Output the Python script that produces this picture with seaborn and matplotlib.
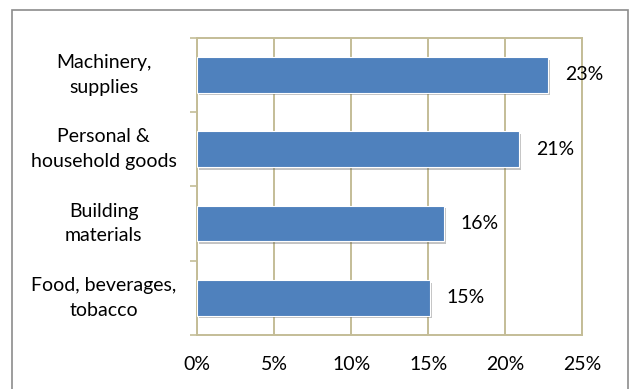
import matplotlib
matplotlib.use("Agg")
import matplotlib.pyplot as plt
import matplotlib.patheffects as pe
from matplotlib.patches import Rectangle
import seaborn as sns
import pandas as pd

categories = ["Machinery,\nsupplies", "Personal &\nhousehold goods",
              "Building\nmaterials", "Food, beverages,\ntobacco"]
shares = [22.8, 20.9, 16.0, 15.1]
x_ticks = [0, 5, 10, 15, 20, 25]
x_tick_labels = ["0%", "5%", "10%", "15%", "20%", "25%"]

BAR = "#4F81BD"
GRID = "#C4BD97"
FRAME = "#8C8C8C"
FS = 14

sns.set_theme(style="white")
plt.rcParams["font.family"] = ["Lato", "DejaVu Sans"]

df = pd.DataFrame({"category": categories, "share": shares})

fig = plt.figure(figsize=(6.31, 3.89), dpi=100)
ax = fig.add_axes([0.3122, 0.1388, 0.6106, 0.7643])

# outer chart frame (its lower edge lies below the canvas)
fig.patches.append(Rectangle((12 / 631, -0.05), (628 - 12) / 631, 1.05 - 10 / 389,
                             transform=fig.transFigure, fill=False,
                             edgecolor=FRAME, linewidth=1.2))

sns.barplot(data=df, x="share", y="category", orient="h", color=BAR,
            width=0.48, saturation=1, ax=ax, edgecolor="white", linewidth=0.8)

for bar in ax.patches:
    bar.set_path_effects([pe.SimplePatchShadow(offset=(1.5, -2), alpha=0.35,
                                               shadow_rgbFace="#555555"),
                          pe.Normal()])
    bar.set_zorder(3)

ax.bar_label(ax.containers[0], labels=[f"{v:.0f}%" for v in shares],
             padding=12, fontsize=FS, color="black")

ax.set_xlim(0, 25)
ax.set_ylim(3.5, -0.5)
ax.set_xticks(x_ticks)
ax.set_xticklabels(x_tick_labels, fontsize=FS, color="black")
ax.set_yticks(range(len(categories)))
ax.set_yticklabels([])
ax.set_yticks([-0.5, 0.5, 1.5, 2.5, 3.5], minor=True)
ax.tick_params(axis="y", which="major", length=0)
ax.tick_params(axis="y", which="minor", length=5, color=GRID, width=1.2, left=True)
ax.tick_params(axis="x", length=0, pad=15)

# wrapped category labels, each centred in the space left of the axis
ylab = ax.get_yaxis_transform()
for i, name in enumerate(categories):
    ax.text(-0.2426, i, name, transform=ylab, ha="center", va="center",
            multialignment="center", fontsize=FS, color="black",
            linespacing=1.55)

ax.set_xlabel("")
ax.set_ylabel("")
ax.grid(axis="x", color=GRID, linewidth=1.4)
ax.set_axisbelow(True)
for side in ["left", "right", "top", "bottom"]:
    ax.spines[side].set_visible(True)
    ax.spines[side].set_color(GRID)
    ax.spines[side].set_linewidth(1.4)

fig.savefig("out.png", dpi=100, facecolor="white")
